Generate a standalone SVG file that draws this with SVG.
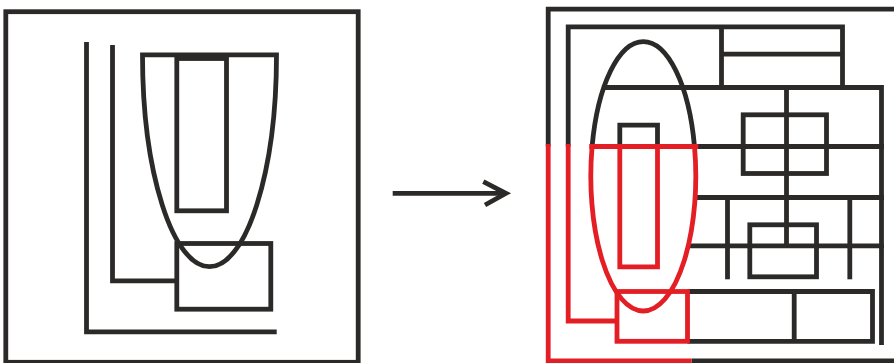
<svg xmlns="http://www.w3.org/2000/svg" width="894" height="363" viewBox="0 0 894 363">
<style>
.k{fill:none;stroke:#2b2a29;stroke-width:4.8;stroke-linejoin:miter;stroke-linecap:butt}
.r{fill:none;stroke:#e31e24;stroke-width:4.8;stroke-linejoin:miter;stroke-linecap:butt}
</style>
<rect width="894" height="363" fill="#ffffff"/>
<g id="left-panel">
  <rect class="k" x="5.8" y="11.7" width="352.4" height="350.6"/>
  <path class="k" d="M86.5 42V331.8H276.7"/>
  <path class="k" d="M112.5 45V280.8H176.8"/>
  <path class="k" d="M142.5 54.8H276.5A67 212 0 0 1 142.5 54.8Z"/>
  <rect class="k" x="176.8" y="58.5" width="49.7" height="152.3"/>
  <rect class="k" x="176.8" y="243.5" width="94" height="65.7"/>
</g>
<g id="connectors">
  <path class="k" d="M392.7 193.3H505"/>
  <path class="k" d="M483.3 181.7L506 193.3L485 205"/>
</g>
<g id="right-panel">
  <g id="black-parts">
    <path class="k" d="M894 9.2H548.2V146.5"/>
    <path class="k" d="M691.7 360.8H894"/>
    <path class="k" d="M842.5 87.5V26.8H568.2V146.5"/>
    <path class="k" d="M721.5 26.8V87.5"/>
    <path class="k" d="M721.5 54.2H842.5"/>
    <path class="k" d="M592.1 146.5A52.5 134.7 0 0 1 694.5 146.5"/>
    <path class="k" d="M603.7 87.5H881.5V345"/>
    <path class="k" d="M696 146.5H884"/>
    <path class="k" d="M695 197.5H884"/>
    <path class="k" d="M688.2 245.8H884"/>
    <path class="k" d="M786.5 87.5V245.8"/>
    <path class="k" d="M727.5 197.5V279.3"/>
    <path class="k" d="M849.8 197.5V279.3"/>
    <rect class="k" x="743.2" y="114.8" width="83.3" height="58.7"/>
    <rect class="k" x="749.8" y="224.8" width="66.7" height="52"/>
    <path class="k" d="M619.8 146.5V125.2H657.5V146.5"/>
    <path class="k" d="M687.5 291.5H872.5V341.3H687.5"/>
    <path class="k" d="M794.2 291.5V341.3"/>
  </g>
  <g id="red-parts">
    <path class="r" d="M548.2 144.1V360.8H691.7"/>
    <path class="r" d="M568.2 144.1V321H617"/>
    <path class="r" d="M589.3 146.5H698.3"/>
    <path class="r" d="M694.5 146.5A52.5 134.7 0 1 1 592.1 146.5"/>
    <path class="r" d="M619.8 146.5V266.8H657.5V146.5"/>
    <rect class="r" x="617" y="291.5" width="70.5" height="49.8"/>
  </g>
</g>
</svg>
